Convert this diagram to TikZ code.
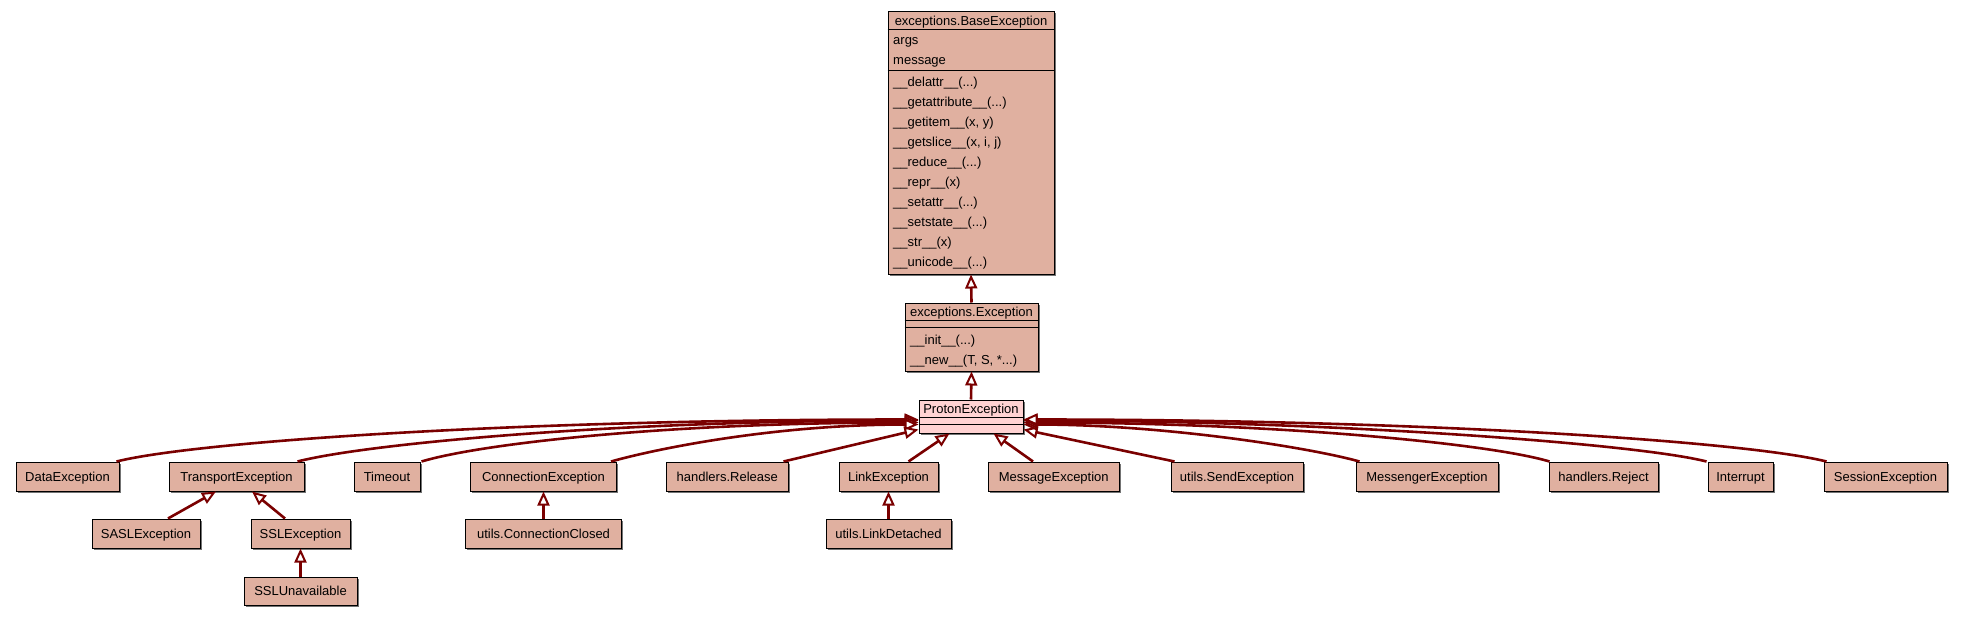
\documentclass[tikz,border=0pt]{standalone}
\usepackage{fontspec}
\setmainfont{Liberation Sans}
\usetikzlibrary{arrows.meta,calc,shadows}
\definecolor{clsfill}{HTML}{E0B0A0}
\definecolor{pefill}{HTML}{FFD2D2}
\definecolor{edgecol}{HTML}{7A0000}
\begin{document}
\begin{tikzpicture}[x=1pt,y=-1pt,
  cls/.style={draw=black, line width=1pt, fill=clsfill, inner sep=0pt,
    drop shadow={shadow xshift=1.5pt, shadow yshift=-1.5pt, fill=black!55, opacity=1}},
  leaf/.style={cls, minimum height=29pt, font=\fontsize{13}{15}\selectfont, text height=9.3pt, text depth=0pt},
  txt/.style={inner sep=0pt, font=\fontsize{13}{15}\selectfont, text height=9.3pt, text depth=0pt},
  member/.style={txt, anchor=west},
  sep/.style={draw=black, line width=1pt},
  inh/.style={draw=edgecol, line width=2.6pt, -{Triangle[length=14pt,width=12pt,fill=white,line width=2pt]}},
]
\useasboundingbox (0,0) rectangle (1964,616);

% ---- BaseException
\node[cls, minimum width=166pt, minimum height=263pt] (base) at (971,142.5) {};
\node[txt] (baset) at (971,20.5) {exceptions.BaseException};
\draw[sep] ($(base.north west)+(0,18.5)$) -- ($(base.north east)+(0,18.5)$);
\node[member] (ba1) at (893,40) {args};
\node[member] (ba2) at (893,60) {message};
\draw[sep] ($(base.north west)+(0,60)$) -- ($(base.north east)+(0,60)$);
\node[member] (bm1) at (893,82) {\_\_delattr\_\_(...)};
\node[member] (bm2) at (893,102) {\_\_getattribute\_\_(...)};
\node[member] (bm3) at (893,122) {\_\_getitem\_\_(x, y)};
\node[member] (bm4) at (893,142) {\_\_getslice\_\_(x, i, j)};
\node[member] (bm5) at (893,162) {\_\_reduce\_\_(...)};
\node[member] (bm6) at (893,182) {\_\_repr\_\_(x)};
\node[member] (bm7) at (893,202) {\_\_setattr\_\_(...)};
\node[member] (bm8) at (893,222) {\_\_setstate\_\_(...)};
\node[member] (bm9) at (893,242) {\_\_str\_\_(x)};
\node[member] (bm10) at (893,262) {\_\_unicode\_\_(...)};

% ---- Exception
\node[cls, minimum width=133pt, minimum height=68pt] (exc) at (971.5,337) {};
\node[txt] (exct) at (971.5,312) {exceptions.Exception};
\draw[sep] ($(exc.north west)+(0,18)$) -- ($(exc.north east)+(0,18)$);
\draw[sep] ($(exc.north west)+(0,25)$) -- ($(exc.north east)+(0,25)$);
\node[member] (em1) at (910,339.5) {\_\_init\_\_(...)};
\node[member] (em2) at (910,360) {\_\_new\_\_(T, S, *...)};

% ---- ProtonException
\node[cls, fill=pefill, minimum width=104pt, minimum height=33pt] (pe) at (971,416.5) {};
\node[txt] (pet) at (971,409) {ProtonException};
\draw[sep] ($(pe.north west)+(0,18)$) -- ($(pe.north east)+(0,18)$);
\draw[sep] ($(pe.north west)+(0,25)$) -- ($(pe.north east)+(0,25)$);

% ---- row 1
\node[leaf, minimum width=103pt] (dataex) at (67.5,476.5) {DataException};
\node[leaf, minimum width=135pt] (transport) at (236.5,476.5) {TransportException};
\node[leaf, minimum width=66pt] (timeout) at (387,476.5) {Timeout};
\node[leaf, minimum width=146pt] (connex) at (543.5,476.5) {ConnectionException};
\node[leaf, minimum width=121.5pt] (release) at (727.25,476.5) {handlers.Release};
\node[leaf, minimum width=99pt] (linkex) at (888.5,476.5) {LinkException};
\node[leaf, minimum width=130.5pt] (msgex) at (1053.75,476.5) {MessageException};
\node[leaf, minimum width=132pt] (sendex) at (1237,476.5) {utils.SendException};
\node[leaf, minimum width=142pt] (messenger) at (1427,476.5) {MessengerException};
\node[leaf, minimum width=109pt] (reject) at (1603.5,476.5) {handlers.Reject};
\node[leaf, minimum width=65pt] (interrupt) at (1740.5,476.5) {Interrupt};
\node[leaf, minimum width=123pt] (session) at (1885.5,476.5) {SessionException};

% ---- row 2
\node[leaf, minimum width=108pt] (sasl) at (146,533.5) {SASLException};
\node[leaf, minimum width=99pt] (ssl) at (300.5,533.5) {SSLException};
\node[leaf, minimum width=156pt] (connclosed) at (543.5,533.5) {utils.ConnectionClosed};
\node[leaf, minimum width=125pt] (linkdet) at (888.5,533.5) {utils.LinkDetached};

% ---- row 3
\node[leaf, minimum width=113pt, minimum height=28pt] (sslun) at (300.5,591) {SSLUnavailable};

% ---- edges
\draw[inh] (exc.north) -- (base.south);
\draw[inh] (pe.north) -- (exc.south);

\draw[inh] ($(dataex.north east)+(-3,0)$) .. controls +(80,-20) and +(-400,0) .. ($(pe.north west)+(0,20)$);
\draw[inh] ($(transport.north east)+(-7,0)$) .. controls +(70,-18) and +(-300,0) .. ($(pe.north west)+(0,21)$);
\draw[inh] ($(timeout.north east)+(1,0)$) .. controls +(60,-18) and +(-250,0) .. ($(pe.north west)+(0,23)$);
\draw[inh] ($(connex.north east)+(-6,0)$) .. controls +(50,-14) and +(-140,0) .. ($(pe.north west)+(0,25)$);
\draw[inh] ($(release.north east)+(-5,0)$) -- ($(pe.north west)+(0,30)$);
\draw[inh] ($(linkex.north east)+(-30,0)$) -- ($(pe.south west)+(31,0)$);
\draw[inh] ($(msgex.north west)+(45,0)$) -- ($(pe.south east)+(-30,0)$);
\draw[inh] ($(sendex.north west)+(4,0)$) -- ($(pe.north east)+(0,30)$);
\draw[inh] ($(messenger.north west)+(4,0)$) .. controls +(-50,-14) and +(140,0) .. ($(pe.north east)+(0,25)$);
\draw[inh] ($(reject.north west)+(1,0)$) .. controls +(-60,-18) and +(250,0) .. ($(pe.north east)+(0,23)$);
\draw[inh] ($(interrupt.north west)+(-1,0)$) .. controls +(-70,-18) and +(300,0) .. ($(pe.north east)+(0,21)$);
\draw[inh] ($(session.north west)+(3,0)$) .. controls +(-80,-20) and +(400,0) .. ($(pe.north east)+(0,20)$);

\draw[inh] ($(sasl.north)+(22,0)$) -- ($(transport.south)+(-20.5,0)$);
\draw[inh] ($(ssl.north)+(-15.5,0)$) -- ($(transport.south)+(15.5,0)$);
\draw[inh] (sslun.north) -- (ssl.south);
\draw[inh] (connclosed.north) -- (connex.south);
\draw[inh] (linkdet.north) -- (linkex.south);
\end{tikzpicture}
\end{document}
